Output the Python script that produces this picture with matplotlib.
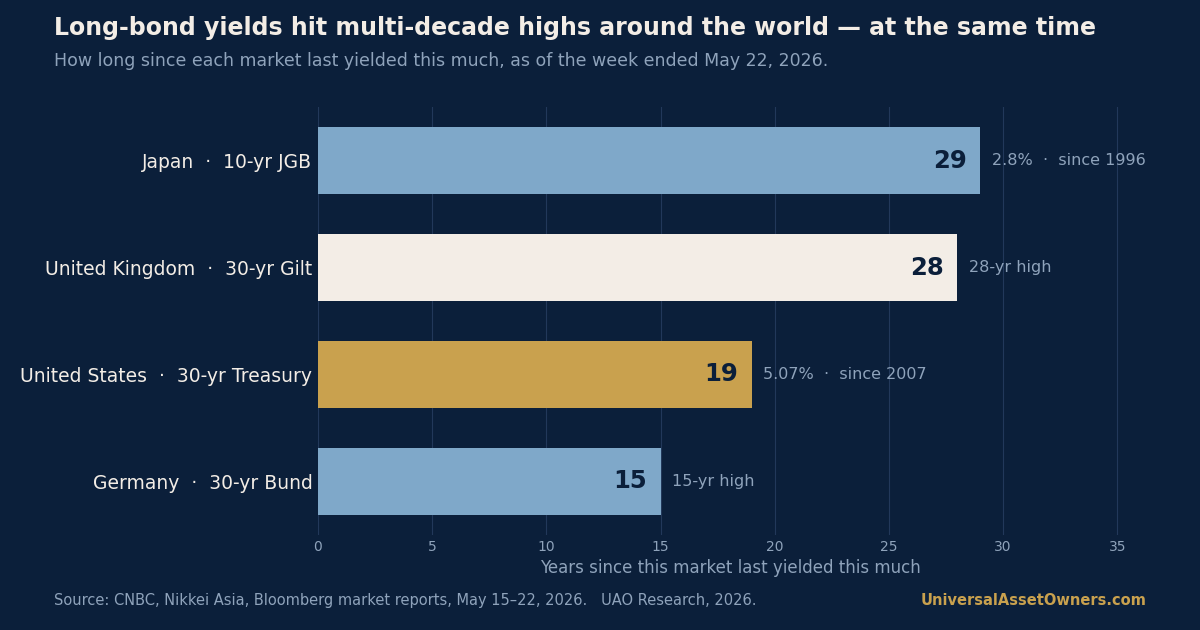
import matplotlib
matplotlib.use("Agg")
import matplotlib.pyplot as plt

labels = ["Japan  ·  10-yr JGB", "United Kingdom  ·  30-yr Gilt", "United States  ·  30-yr Treasury", "Germany  ·  30-yr Bund"]
years = [29, 28, 19, 15]
notes = ["2.8%  ·  since 1996", "28-yr high", "5.07%  ·  since 2007", "15-yr high"]
colors = ["#7fa8c9", "#f3ede6", "#c9a14e", "#7fa8c9"]
ticks = [0, 5, 10, 15, 20, 25, 30, 35]

BG = "#0b1f3a"
fig = plt.figure(figsize=(12, 6.3), dpi=100, facecolor=BG)
ax = fig.add_axes([0.265, 0.151, 0.687, 0.679], facecolor=BG)
ypos = list(range(len(years)))[::-1]
ax.barh(ypos, years, height=0.62, color=colors, zorder=3)
for y, v, n in zip(ypos, years, notes):
    ax.text(v - 0.6, y, str(v), ha="right", va="center", fontsize=17.5, fontweight="bold", color="#0b1f3a", zorder=4)
    ax.text(v + 0.5, y, n, ha="left", va="center", fontsize=11.5, color="#8fa3bb")
ax.set_yticks(ypos)
ax.set_yticklabels(labels, fontsize=13.5, color="#f3ede6")
ax.set_xticks(ticks)
ax.tick_params(axis="x", colors="#8fa3bb", labelsize=10, length=0)
ax.tick_params(axis="y", length=0, pad=4)
ax.set_xlim(0, 36.1)
ax.set_ylim(-0.5, 3.5)
ax.grid(axis="x", color="#22385a", linewidth=0.8, zorder=0)
for s in ax.spines.values():
    s.set_visible(False)
ax.set_xlabel("Years since this market last yielded this much", color="#8fa3bb", fontsize=12, labelpad=4)

fig.text(0.045, 0.956, "Long-bond yields hit multi-decade highs around the world — at the same time", fontsize=17, fontweight="bold", color="#f3ede6", va="center")
fig.text(0.045, 0.903, "How long since each market last yielded this much, as of the week ended May 22, 2026.", fontsize=12.5, color="#8fa3bb", va="center")
fig.text(0.045, 0.047, "Source: CNBC, Nikkei Asia, Bloomberg market reports, May 15–22, 2026.   UAO Research, 2026.", fontsize=10.5, color="#8fa3bb", va="center")
fig.text(0.955, 0.047, "UniversalAssetOwners.com", fontsize=10.5, fontweight="bold", color="#c9a14e", va="center", ha="right")
fig.savefig("out.png", facecolor=BG)
